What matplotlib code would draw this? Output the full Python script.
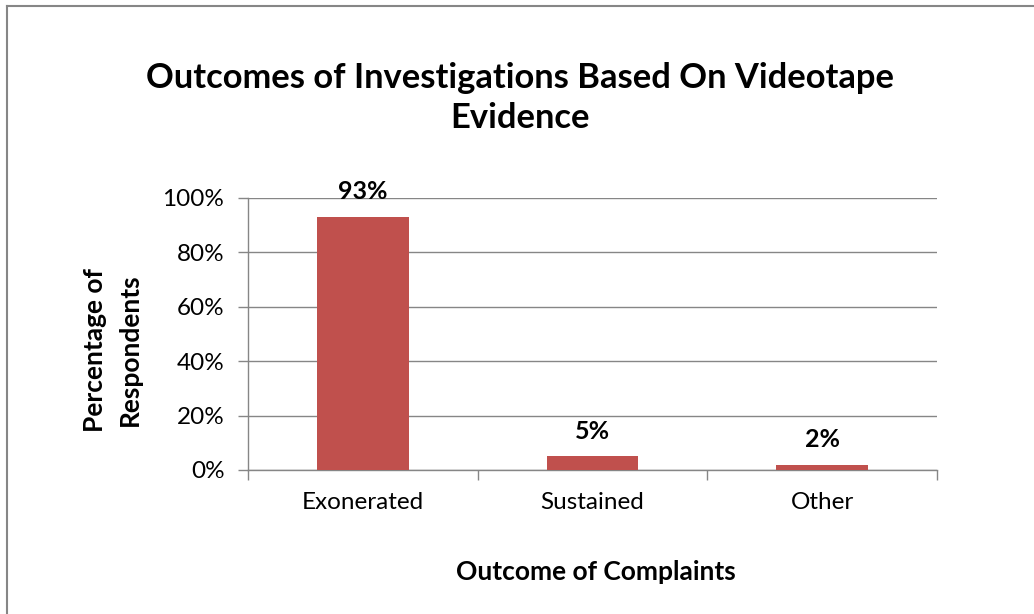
import matplotlib
matplotlib.use("Agg")
import matplotlib.pyplot as plt
from matplotlib.lines import Line2D
from matplotlib.ticker import FuncFormatter, FixedLocator

categories = ["Exonerated", "Sustained", "Other"]
values = [93, 5, 2]
labels = ["93%", "5%", "2%"]
y_ticks = [0, 20, 40, 60, 80, 100]

plt.rcParams['font.family'] = ['Lato', 'DejaVu Sans']

W, H = 1034, 614
fig = plt.figure(figsize=(W / 100, H / 100), dpi=100)
ax = fig.add_axes([248/W, 144/H, (937-248)/W, (470-198)/H])

grey = "#868686"
x = list(range(len(categories)))
bars = ax.bar(x, values, width=0.4, color="#C0504D", zorder=3)
ax.bar_label(bars, labels=labels, padding=10, fontsize=18, fontweight='bold')

ax.set_xlim(-0.5, len(categories) - 0.5)
ax.set_ylim(0, 100)
ax.set_yticks(y_ticks)
ax.yaxis.set_major_formatter(FuncFormatter(lambda v, p: f"{int(v)}%"))
ax.grid(axis='y', color=grey, linewidth=1.0, zorder=0)

ax.set_xticks(x)
ax.set_xticklabels(categories, fontsize=17.5)
ax.xaxis.set_minor_locator(FixedLocator([i - 0.5 for i in range(len(categories) + 1)]))
ax.tick_params(axis='x', which='major', length=0, pad=16)
ax.tick_params(axis='x', which='minor', length=7, color=grey, width=1)
ax.tick_params(axis='y', length=7, color=grey, width=1, labelsize=17.5, pad=10)

for s in ['top', 'right']:
    ax.spines[s].set_visible(False)
for s in ['left', 'bottom']:
    ax.spines[s].set_color(grey)
    ax.spines[s].set_linewidth(1.0)

fig.text(520/W, 1 - 88/H, "Outcomes of Investigations Based On Videotape",
         ha='center', va='baseline', fontsize=24.8, fontweight='bold')
fig.text(520/W, 1 - 128/H, "Evidence",
         ha='center', va='baseline', fontsize=24.8, fontweight='bold')
fig.text(596/W, 1 - 572/H, "Outcome of Complaints", ha='center', va='center',
         fontsize=19, fontweight='bold')
fig.text(95/W, 1 - 350/H, "Percentage of", ha='center', va='center',
         rotation=90, fontsize=19, fontweight='bold')
fig.text(130/W, 1 - 350/H, "Respondents", ha='center', va='center',
         rotation=90, fontsize=19, fontweight='bold')

# outer chart border (left and top visible)
fig.add_artist(Line2D([6.5/W, 6.5/W], [0, 1 - 5.5/H], transform=fig.transFigure, color=grey, lw=1.5))
fig.add_artist(Line2D([6.5/W, 1], [1 - 5.5/H, 1 - 5.5/H], transform=fig.transFigure, color=grey, lw=1.5))

fig.savefig("out.png", dpi=100)
